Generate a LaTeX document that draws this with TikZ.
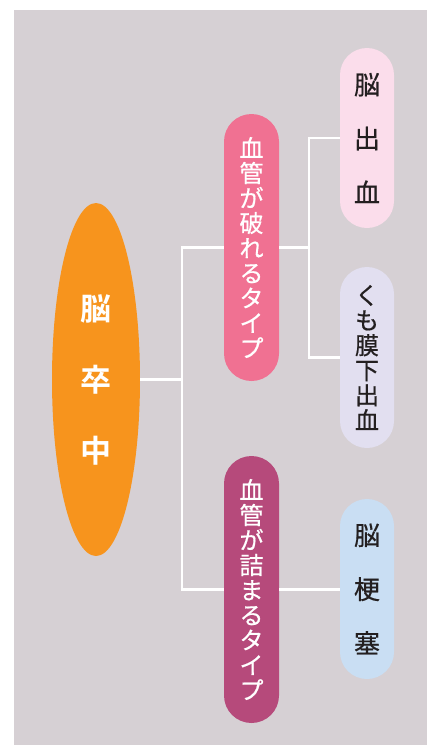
\documentclass[tikz,border=0pt]{standalone}
\usepackage{fontspec}
\setmainfont{Noto Sans CJK JP}
\newfontfamily\jpbold[BoldFont=*]{Noto Sans CJK JP Bold}
\newfontfamily\jpmed[FakeBold=0.6]{Noto Sans CJK JP}
\usetikzlibrary{shapes.geometric}
\definecolor{bgc}{HTML}{D6D0D4}
\definecolor{orangec}{HTML}{F7941D}
\definecolor{pinkc}{HTML}{F07192}
\definecolor{magc}{HTML}{B64A7B}
\definecolor{lpink}{HTML}{FBDDEB}
\definecolor{lav}{HTML}{E2DFF0}
\definecolor{lblue}{HTML}{C9DEF3}
\definecolor{darktext}{HTML}{231F20}
\tikzset{
  conn/.style={draw=white, line width=2.4pt},
  typepill/.style={rectangle, rounded corners=27.5pt, minimum width=55pt, minimum height=267pt, inner sep=0pt, text=white, align=center, font=\jpmed\fontsize{24}{25}\selectfont},
  leafpill/.style={rectangle, rounded corners=27pt, minimum width=54pt, inner sep=0pt, text=darktext, align=center},
}
\begin{document}
\begin{tikzpicture}[x=1pt, y=-1pt]
\useasboundingbox (0,0) rectangle (427,745);
\fill[white] (0,0) rectangle (427,745);
\fill[bgc] (14,10) rectangle (427,745);
% main ellipse
\node[ellipse, fill=orangec, minimum width=88pt, minimum height=353pt, inner sep=0pt, text=white, align=center, font=\jpbold\fontsize{31}{71}\selectfont] (brain) at (96,379.5) {脳\\卒\\中};
% type pills
\node[typepill, fill=pinkc] (burst) at (251.5,247.5) {血\\管\\が\\破\\れ\\る\\タ\\イ\\プ};
\node[typepill, fill=magc] (clog) at (251.5,589.5) {血\\管\\が\\詰\\ま\\る\\タ\\イ\\プ};
% leaf pills
\node[leafpill, fill=lpink, minimum height=180pt, font=\jpmed\fontsize{26}{54}\selectfont] (hem) at (367,138) {脳\\出\\血};
\node[leafpill, fill=lav, minimum height=181pt, font=\jpmed\fontsize{24}{25}\selectfont] (sah) at (367,357.5) {く\\も\\膜\\下\\出\\血};
\node[leafpill, fill=lblue, minimum height=180pt, font=\jpmed\fontsize{26}{54}\selectfont] (inf) at (367,589) {脳\\梗\\塞};
% connectors
\coordinate (j1) at (182,379.5);
\coordinate (j2) at (309,247.5);
\draw[conn] (brain.east) -- (j1);
\draw[conn] (burst.west) -| (j1) |- (clog.west);
\draw[conn] (burst.east) -- (j2);
\draw[conn] (hem.west) -| (j2) |- (sah.west);
\draw[conn] (clog.east) -- (inf.west |- clog.east);
\end{tikzpicture}
\end{document}
